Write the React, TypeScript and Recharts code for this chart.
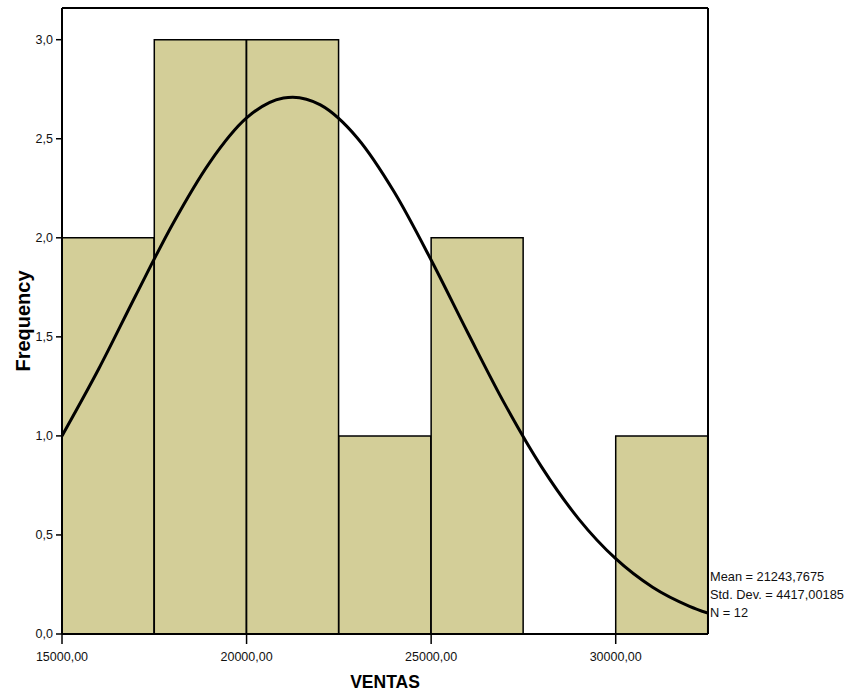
import { ComposedChart, Bar, Line, XAxis, YAxis, ReferenceLine } from 'recharts'

// ─── data ─────────────────────────────────────────────────────────────────
// Histogram of VENTAS, bins of 2500 from 15000 to 32500.

const BIN_LABELS = ['15000-17500', '17500-20000', '20000-22500', '22500-25000', '25000-27500', '27500-30000', '30000-32500']
const BIN_COUNTS = [2, 3, 3, 1, 2, 0, 1]

// Normal curve (x = VENTAS, y = frequency).
const CURVE_X = [15000, 16000, 17000, 18000, 19000, 20000, 21000, 21250, 22000, 23000, 24000, 25000, 26000, 27000, 28000, 29000, 30000, 31000, 32000, 32500]
const CURVE_Y = [1.0, 1.34, 1.71, 2.07, 2.38, 2.605, 2.706, 2.71, 2.671, 2.504, 2.231, 1.888, 1.518, 1.159, 0.841, 0.58, 0.38, 0.236, 0.14, 0.105]

const X_TICKS = [15000, 20000, 25000, 30000]
const Y_TICKS = [0, 0.5, 1, 1.5, 2, 2.5, 3]
const STATS = ['Mean = 21243,7675', 'Std. Dev. = 4417,00185', 'N = 12']

// ─── constants ────────────────────────────────────────────────────────────

const X_MIN = 15000
const X_MAX = 32500
const Y_MAX = 3.16
const FONT = '"Liberation Sans", Arial, sans-serif'
const FILL = '#d3ce98'

const bars = BIN_LABELS.map((bin, i) => ({ bin, count: BIN_COUNTS[i] }))
const curve = CURVE_X.map((x, i) => ({ x, y: CURVE_Y[i] }))

const fmtX = (v: number) => v.toFixed(2).replace('.', ',')
const fmtY = (v: number) => v.toFixed(1).replace('.', ',')

export default function App() {
  return (
    <div style={{ position: 'absolute', left: 0, top: 0, width: 856, height: 695, fontFamily: FONT }}>
      <ComposedChart
        width={856}
        height={695}
        data={bars}
        barCategoryGap={0}
        barGap={0}
        margin={{ top: 8, right: 148, left: 0, bottom: 0 }}
      >
        <XAxis xAxisId="cat" dataKey="bin" hide height={0} />
        <XAxis
          xAxisId="num"
          dataKey="x"
          type="number"
          domain={[X_MIN, X_MAX]}
          allowDataOverflow
          ticks={X_TICKS}
          tickFormatter={fmtX}
          tickSize={10}
          tickMargin={8}
          height={61}
          axisLine={{ stroke: '#000', strokeWidth: 2 }}
          tickLine={{ stroke: '#000', strokeWidth: 1.5 }}
          tick={{ fill: '#111', fontSize: 12.5, fontFamily: FONT }}
          label={{ value: 'VENTAS', position: 'insideBottom', offset: 7, fill: '#000', fontSize: 17.5, fontWeight: 'bold', fontFamily: FONT }}
        />
        <YAxis
          type="number"
          domain={[0, Y_MAX]}
          allowDataOverflow
          ticks={Y_TICKS}
          tickFormatter={fmtY}
          width={62}
          tickSize={6}
          tickMargin={3}
          axisLine={{ stroke: '#000', strokeWidth: 2 }}
          tickLine={{ stroke: '#000', strokeWidth: 1.5 }}
          tick={{ fill: '#111', fontSize: 12.5, fontFamily: FONT }}
          label={{ value: 'Frequency', angle: -90, position: 'insideLeft', offset: 23, fill: '#000', fontSize: 20, fontWeight: 'bold', fontFamily: FONT, style: { textAnchor: 'middle' } }}
        />
        <Bar
          xAxisId="cat"
          dataKey="count"
          fill={FILL}
          stroke="#000"
          strokeWidth={1.5}
          isAnimationActive={false}
        />
        <Line
          xAxisId="num"
          data={curve}
          dataKey="y"
          type="monotone"
          stroke="#000"
          strokeWidth={3}
          dot={false}
          activeDot={false}
          isAnimationActive={false}
        />
        <ReferenceLine xAxisId="num" y={Y_MAX} stroke="#000" strokeWidth={2} />
        <ReferenceLine xAxisId="num" x={X_MAX} stroke="#000" strokeWidth={2} />
      </ComposedChart>
      <div style={{ position: 'absolute', left: 710, top: 568, fontSize: 12.8, lineHeight: '18px', color: '#111', whiteSpace: 'nowrap' }}>
        {STATS.map(s => <div key={s}>{s}</div>)}
      </div>
    </div>
  )
}
